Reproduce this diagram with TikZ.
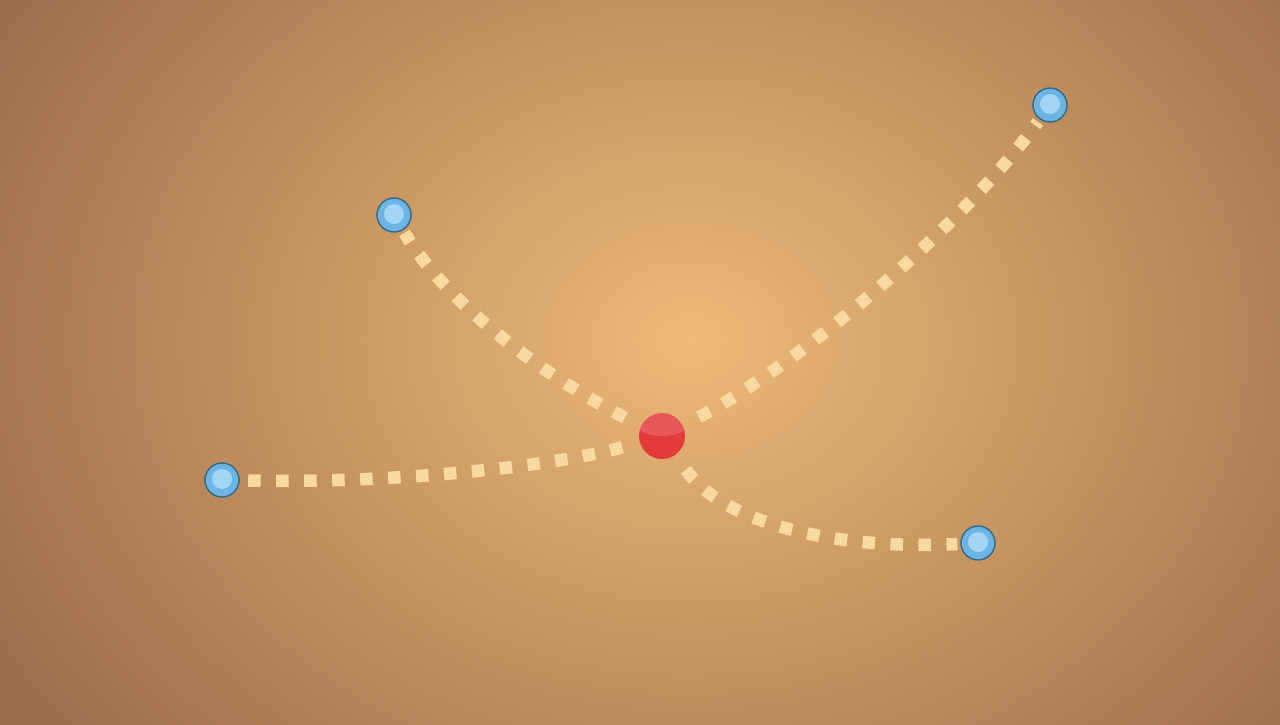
\documentclass[tikz,border=0pt]{standalone}
\usepackage{xcolor}
\usepackage{tikz}
\usetikzlibrary{positioning,calc}

\definecolor{bgedge}{HTML}{9E6C4B}
\definecolor{bgcenter}{HTML}{EDBA76}
\definecolor{trail}{HTML}{F8D9A0}
\definecolor{hubred}{HTML}{E53A3A}
\definecolor{leafblue}{HTML}{6CB4E4}
\definecolor{leaflight}{HTML}{A3D5F5}
\definecolor{leafrim}{HTML}{2E6A86}

\tikzset{
    hub/.style={circle, fill=hubred, minimum size=0.92cm, inner sep=0pt},
    leaf/.style={circle, draw=leafrim, line width=0.8pt, fill=leafblue,
        minimum size=0.68cm, inner sep=0pt,
        path picture={\fill[leaflight] ([yshift=0.02cm]path picture bounding box.center) circle (0.2cm);}},
    trailline/.style={draw=trail, line width=0.25cm, dash pattern=on 0.25cm off 0.31cm,
        shorten <=0.36cm, shorten >=0.06cm}
}

\begin{document}
\begin{tikzpicture}[x=0.02cm, y=-0.02cm]
    \useasboundingbox (0,0) rectangle (1280,724);

    % Background
    \begin{scope}
        \clip (0,0) rectangle (1280,724);
        \fill[bgedge] (-10,-10) rectangle (1290,734);
        \shade[inner color=bgcenter, outer color=bgedge] (690,340) ellipse (800 and 640);
    \end{scope}

    % Nodes
    \node[hub] (hub) at (662,436) {};
    \node[leaf] (w) at (222,480) {};
    \node[leaf] (nw) at (394,215) {};
    \node[leaf] (ne) at (1050,105) {};
    \node[leaf] (se) at (978,543) {};

    % Highlight on the hub
    \begin{scope}
        \clip (hub.center) circle (23);
        \fill[white, opacity=0.15] ($(hub.center)+(0,-20)$) ellipse (32 and 20);
    \end{scope}

    % Trails
    \draw[trailline] (hub) .. controls (570,462) and (420,484) .. (w);
    \draw[trailline] (hub) .. controls (560,385) and (450,310) .. (nw);
    \draw[trailline] (hub) .. controls (790,370) and (960,230) .. (ne);
    \draw[trailline] (hub) .. controls (725,525) and (840,550) .. (se);
\end{tikzpicture}
\end{document}
